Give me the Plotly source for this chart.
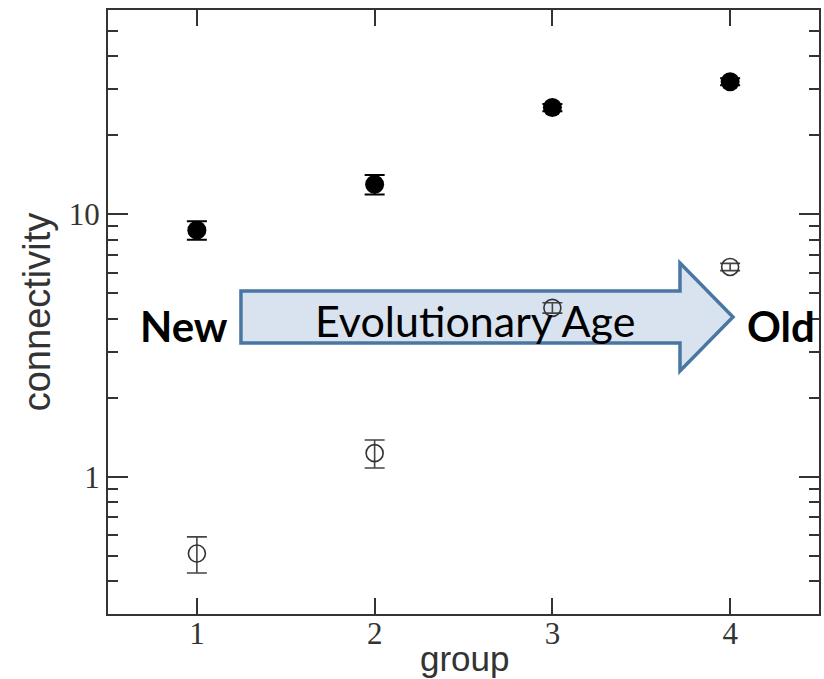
import plotly.graph_objects as go

groups = [1, 2, 3, 4]
filled_vals = [8.7, 13.0, 25.5, 32.0]
filled_err = [0.7, 1.1, 0.8, 1.0]
open_vals = [0.51, 1.23, 4.4, 6.3]
open_err = [0.08, 0.15, 0.2, 0.2]

y_major = [1, 10]
y_major_text = ["1", "10"]
y_minor = [0.4, 0.5, 0.6, 0.7, 0.8, 0.9, 2, 3, 4, 5, 6, 7, 8, 9, 20, 30, 40, 50]
x_ticks = [1, 2, 3, 4]

fig = go.Figure()
fig.add_trace(go.Scatter(
    x=groups, y=open_vals, mode="markers",
    marker=dict(symbol="circle-open", size=17, color="#333333", line=dict(width=1.6, color="#333333")),
    error_y=dict(type="data", array=open_err, color="#444444", thickness=1.6, width=10),
    showlegend=False))
fig.add_trace(go.Scatter(
    x=groups, y=filled_vals, mode="markers",
    marker=dict(symbol="circle", size=19, color="black"),
    error_y=dict(type="data", array=filled_err, color="black", thickness=2, width=10),
    showlegend=False))

# Block arrow (paper coordinates)
xl, xh, xt = 0.187, 0.8045, 0.879
yb_top, yb_bot, yh_top, yh_bot, y_tip = 0.5348, 0.4487, 0.5811, 0.4023, 0.4917
path = (f"M {xl},{yb_bot} L {xl},{yb_top} L {xh},{yb_top} L {xh},{yh_top} "
        f"L {xt},{y_tip} L {xh},{yh_bot} L {xh},{yb_bot} Z")
fig.add_shape(type="path", path=path, xref="paper", yref="paper",
              fillcolor="#d9e3f0", line=dict(color="#4a76a3", width=3.5), layer="below")

fig.add_annotation(text="Evolutionary Age", x=0.516, y=0.486, xref="paper", yref="paper",
                   xanchor="center", yanchor="middle",
                   showarrow=False, font=dict(family="Lato", size=43, color="black"))
fig.add_annotation(text="<b>New</b>", x=0.107, y=0.477, xref="paper", yref="paper",
                   xanchor="center", yanchor="middle",
                   showarrow=False, font=dict(family="Lato", size=42, color="black"))
fig.add_annotation(text="<b>Old</b>", x=0.9466, y=0.477, xref="paper", yref="paper",
                   xanchor="center", yanchor="middle",
                   showarrow=False, font=dict(family="Lato", size=42, color="black"))
# x-axis title
fig.add_annotation(text="group", x=0.502, y=-0.0737, xref="paper", yref="paper",
                   xanchor="center", yanchor="middle",
                   showarrow=False, font=dict(family="Liberation Sans", size=35, color="#333333"))

axis_common = dict(showline=True, linecolor="#333333", linewidth=2, mirror="allticks",
                   ticks="inside", tickcolor="#333333", tickwidth=2, showgrid=False,
                   zeroline=False, automargin=False)

fig.update_layout(
    width=824, height=679,
    margin=dict(l=108, r=5, t=10, b=65),
    paper_bgcolor="white", plot_bgcolor="white",
    xaxis=dict(range=[0.5, 4.5], tickvals=x_ticks, ticklen=16, ticklabelstandoff=-9,
               tickfont=dict(family="Liberation Serif", size=31, color="#333333"),
               **axis_common),
    yaxis=dict(type="log", range=[-0.5229, 1.7782], tickvals=y_major, ticktext=y_major_text,
               ticklen=20,
               minor=dict(tickvals=y_minor, ticks="inside", ticklen=10, tickwidth=2,
                          tickcolor="#333333", showgrid=False),
               tickfont=dict(family="Liberation Serif", size=31, color="#333333"),
               title=dict(text="connectivity", standoff=6,
                          font=dict(family="Liberation Sans", size=38, color="#333333")),
               **axis_common),
)

fig.write_html("out.html", config={"displayModeBar": False},
               post_script="document.body.style.margin='0';")
